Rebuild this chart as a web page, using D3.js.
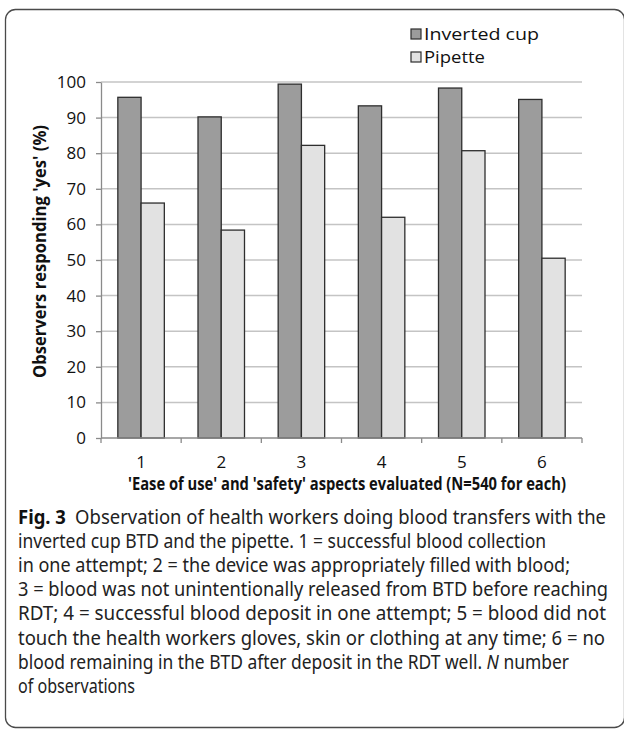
<!DOCTYPE html>
<meta charset="utf-8">
<script src="https://d3js.org/d3.v7.min.js"></script>
<style>
body { margin: 0; background: #fff; }
svg { display: block; }
text { font-family: "Open Sans", "DejaVu Sans", sans-serif; fill: #111; }
.grid line { stroke: #c4c4c4; stroke-width: 1.5; }
.axis path, .axis line { stroke: #8a8a8a; stroke-width: 1.3; }
.caption text { font-family: "Noto Sans", "Open Sans", sans-serif; fill: #222; }
</style>
<body></body>
<script>

// aspects 1..6
var aspects = ["1", "2", "3", "4", "5", "6"];
var series = ["Inverted cup", "Pipette"];
var invertedCup = [95.7, 90.2, 99.4, 93.3, 98.3, 95.1];
var pipette = [66.0, 58.4, 82.2, 62.0, 80.7, 50.5];
var yTicks = [0, 10, 20, 30, 40, 50, 60, 70, 80, 90, 100];
var colors = ["#9c9c9c", "#e2e2e2"];

var captionLines = [
  [["b", "Fig. 3"], ["", "\u2002Observation of health workers doing blood transfers with the"]],
  [["", "inverted cup BTD and the pipette. 1 = successful blood collection"]],
  [["", "in one attempt; 2 = the device was appropriately filled with blood;"]],
  [["", "3 = blood was not unintentionally released from BTD before reaching"]],
  [["", "RDT; 4 = successful blood deposit in one attempt; 5 = blood did not"]],
  [["", "touch the health workers gloves, skin or clothing at any time; 6 = no"]],
  [["", "blood remaining in the BTD after deposit in the RDT well. "], ["i", "N"], ["", " number"]],
  [["", "of observations"]]
];
var captionWidths = [588, 528, 552, 590, 588, 587, 551, 117];

var data = aspects.map(function(a, i) {
  return {aspect: a, values: [invertedCup[i], pipette[i]]};
});

var width = 624, height = 730;
var svg = d3.select("body").append("svg")
  .attr("width", width)
  .attr("height", height);

// outer frame
svg.append("rect")
  .attr("x", 5.5).attr("y", 9.5)
  .attr("width", 619).attr("height", 718)
  .attr("rx", 10)
  .attr("fill", "none")
  .attr("stroke", "#4a4a4a")
  .attr("stroke-width", 1.3);

var plot = {left: 101, right: 582, top: 82, bottom: 438};

var x0 = d3.scaleBand()
  .domain(aspects)
  .range([plot.left, plot.right])
  .paddingInner(0.42)
  .paddingOuter(0.21);

var x1 = d3.scaleBand()
  .domain([0, 1])
  .range([0, x0.bandwidth()]);

var y = d3.scaleLinear()
  .domain([0, 100])
  .range([plot.bottom, plot.top]);

// gridlines
svg.append("g").attr("class", "grid")
  .selectAll("line")
  .data(yTicks.filter(function(d) { return d > 0; }))
  .enter().append("line")
  .attr("x1", plot.left).attr("x2", plot.right)
  .attr("y1", function(d) { return y(d); })
  .attr("y2", function(d) { return y(d); });

// bars
var groups = svg.selectAll(".grp")
  .data(data).enter().append("g")
  .attr("class", "grp")
  .attr("transform", function(d) { return "translate(" + x0(d.aspect) + ",0)"; });

groups.selectAll("rect")
  .data(function(d) { return d.values; })
  .enter().append("rect")
  .attr("x", function(d, i) { return x1(i); })
  .attr("y", function(d) { return y(d); })
  .attr("width", x1.bandwidth())
  .attr("height", function(d) { return y(0) - y(d); })
  .attr("fill", function(d, i) { return colors[i]; })
  .attr("stroke", "#2e2e2e")
  .attr("stroke-width", 1.3);

// y axis
var yAxis = svg.append("g").attr("class", "axis")
  .attr("transform", "translate(" + plot.left + ",0)")
  .call(d3.axisLeft(y).tickValues(yTicks).tickSize(5).tickSizeOuter(0).tickPadding(10));
yAxis.selectAll("text")
  .style("font-size", "17px")
  .style("font-family", "'Open Sans', sans-serif")
  .attr("fill", "#111");

// x axis: ticks at band boundaries, labels at band centres
var step = x0.step();
var boundaries = d3.range(aspects.length + 1).map(function(i) {
  return plot.left + i * step;
});
var xg = svg.append("g").attr("class", "axis");
xg.append("line")
  .attr("x1", plot.left).attr("x2", plot.right)
  .attr("y1", y(0)).attr("y2", y(0));
xg.selectAll(".tk").data(boundaries).enter().append("line")
  .attr("class", "tk")
  .attr("x1", function(d) { return d; }).attr("x2", function(d) { return d; })
  .attr("y1", y(0)).attr("y2", y(0) + 5);
xg.selectAll(".lbl").data(aspects).enter().append("text")
  .attr("class", "lbl")
  .attr("x", function(d) { return x0(d) + x0.bandwidth() / 2; })
  .attr("y", 468)
  .attr("text-anchor", "middle")
  .style("font-size", "17px")
  .text(function(d) { return d; });

// axis titles
svg.append("text")
  .attr("x", 128).attr("y", 490)
  .attr("textLength", 438)
  .attr("lengthAdjust", "spacingAndGlyphs")
  .style("font-size", "17.5px")
  .style("font-weight", "bold")
  .text("'Ease of use' and 'safety' aspects evaluated (N=540 for each)");

svg.append("text")
  .attr("transform", "translate(46,378) rotate(-90)")
  .attr("textLength", 253)
  .attr("lengthAdjust", "spacingAndGlyphs")
  .style("font-size", "17.5px")
  .style("font-weight", "bold")
  .text("Observers responding 'yes' (%)");

// legend
var legend = svg.selectAll(".leg")
  .data(series).enter().append("g")
  .attr("class", "leg")
  .attr("transform", function(d, i) { return "translate(411," + (29 + i * 23) + ")"; });
legend.append("rect")
  .attr("width", 10).attr("height", 10)
  .attr("fill", function(d, i) { return colors[i]; })
  .attr("stroke", "#2e2e2e")
  .attr("stroke-width", 1.2);
legend.append("text")
  .attr("x", 13).attr("y", 11)
  .attr("textLength", function(d, i) { return i === 0 ? 115 : 61; })
  .attr("lengthAdjust", "spacingAndGlyphs")
  .style("font-size", "17px")
  .text(function(d) { return d; });

// caption
var cap = svg.append("g").attr("class", "caption");
captionLines.forEach(function(parts, i) {
  var t = cap.append("text")
    .attr("x", 18)
    .attr("y", 524 + i * 24.1)
    .attr("textLength", captionWidths[i])
    .attr("lengthAdjust", "spacingAndGlyphs")
    .style("font-size", "19px");
  parts.forEach(function(p) {
    var s = t.append("tspan").text(p[1]);
    if (p[0] === "b") s.style("font-weight", "bold").style("fill", "#111");
    if (p[0] === "i") s.style("font-style", "italic");
  });
});

</script>
